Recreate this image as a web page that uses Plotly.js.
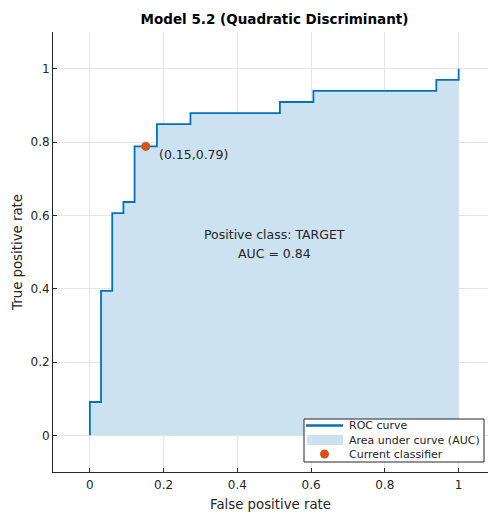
<!DOCTYPE html>
<html>
<head>
<meta charset="utf-8">
<script src="https://cdn.plot.ly/plotly-3.0.1.min.js"></script>
<style>
  html, body { margin: 0; padding: 0; background: #ffffff; }
  #chart { width: 488px; height: 512px; }
</style>
</head>
<body>
<div id="chart"></div>
<script>
// ROC curve vertices (false positive rate, true positive rate)
const fpr = [0, 0, 0.0303, 0.0303, 0.0606, 0.0606, 0.0909, 0.0909, 0.1212, 0.1212,
             0.1818, 0.1818, 0.2727, 0.2727, 0.5152, 0.5152, 0.6061, 0.6061,
             0.9394, 0.9394, 1, 1];
const tpr = [0, 0.0909, 0.0909, 0.3939, 0.3939, 0.6061, 0.6061, 0.6364, 0.6364, 0.7879,
             0.7879, 0.8485, 0.8485, 0.8788, 0.8788, 0.9091, 0.9091, 0.9394,
             0.9394, 0.9697, 0.9697, 1];

// Operating point of the current classifier
const opX = [0.1515];
const opY = [0.7879];

const positiveClass = 'TARGET';
const tickVals = [0, 0.2, 0.4, 0.6, 0.8, 1];
const tickText = ['0', '0.2', '0.4', '0.6', '0.8', '1'];

// Area under the curve by the trapezoid rule
let auc = 0;
for (let i = 1; i < fpr.length; i++) {
  auc += (fpr[i] - fpr[i - 1]) * (tpr[i] + tpr[i - 1]) / 2;
}

const W = 488, H = 512;
const M = { l: 53, r: 0, t: 32, b: 40 };
const PW = W - M.l - M.r, PH = H - M.t - M.b;
const px = v => (v - M.l) / PW;          // page pixel -> paper x
const py = v => (H - M.b - v) / PH;      // page pixel -> paper y

const blue = '#0072BD';
const areaFill = 'rgb(204,226,241)';
const orange = '#D95319';
const ink = '#262626';
const font = 'DejaVu Sans';

const traces = [
  {
    x: fpr, y: tpr, type: 'scatter', mode: 'lines',
    fill: 'tozeroy', fillcolor: areaFill,
    line: { width: 0, color: areaFill },
    hoverinfo: 'skip', showlegend: false
  },
  {
    x: fpr, y: tpr, type: 'scatter', mode: 'lines',
    line: { width: 1.8, color: blue },
    showlegend: false
  },
  {
    x: opX, y: opY, type: 'scatter', mode: 'markers',
    marker: { size: 9, color: orange },
    showlegend: false, cliponaxis: false
  }
];

// Legend drawn as a compact box in the lower right corner
const legX0 = 304, legX1 = 484, legY0 = 419, legY1 = 462;
const shapes = [
  { type: 'rect', xref: 'paper', yref: 'paper', x0: px(legX0), x1: px(legX1),
    y0: py(legY1), y1: py(legY0), fillcolor: '#ffffff', line: { color: ink, width: 1 }, layer: 'above' },
  { type: 'line', xref: 'paper', yref: 'paper', x0: px(306), x1: px(343),
    y0: py(425.5), y1: py(425.5), line: { color: blue, width: 2.5 }, layer: 'above' },
  { type: 'rect', xref: 'paper', yref: 'paper', x0: px(307), x1: px(343),
    y0: py(445), y1: py(435), fillcolor: areaFill, line: { width: 0 }, layer: 'above' },
  { type: 'circle', xref: 'paper', yref: 'paper', x0: px(320), x1: px(329),
    y0: py(458.5), y1: py(449.5), fillcolor: orange, line: { width: 0 }, layer: 'above' }
];

const legendLabels = ['ROC curve', 'Area under curve (AUC)', 'Current classifier'];
const legendRows = [425, 440, 454];

const annotations = legendLabels.map((t, i) => ({
  text: t, xref: 'paper', yref: 'paper', x: px(347), y: py(legendRows[i]),
  xanchor: 'left', yanchor: 'middle', showarrow: false,
  font: { family: font, size: 11, color: ink }
}));

annotations.push({
  text: '(' + opX[0].toFixed(2) + ',' + opY[0].toFixed(2) + ')',
  x: opX[0], y: opY[0], xref: 'x', yref: 'y',
  xanchor: 'left', yanchor: 'middle', xshift: 11, yshift: -8,
  showarrow: false, font: { family: font, size: 12.5, color: ink }
});
annotations.push({
  text: 'Positive class: ' + positiveClass,
  x: 0.5, y: 0.549, xref: 'x', yref: 'y', xanchor: 'center', yanchor: 'middle',
  showarrow: false, font: { family: font, size: 12.5, color: ink }
});
annotations.push({
  text: 'AUC = ' + auc.toFixed(2),
  x: 0.5, y: 0.497, xref: 'x', yref: 'y', xanchor: 'center', yanchor: 'middle',
  showarrow: false, font: { family: font, size: 12.5, color: ink }
});

const axisCommon = {
  tickvals: tickVals, ticktext: tickText,
  showline: true, linecolor: ink, linewidth: 1, mirror: false,
  showgrid: true, gridcolor: '#e6e6e6', gridwidth: 1,
  zeroline: false,
  ticks: 'inside', ticklen: 4, tickcolor: ink, tickwidth: 1,
  tickfont: { family: font, size: 12, color: ink },
  automargin: false, fixedrange: true
};

const layout = {
  width: W, height: H,
  margin: { l: M.l, r: M.r, t: M.t, b: M.b, pad: 0 },
  paper_bgcolor: '#ffffff', plot_bgcolor: '#ffffff',
  font: { family: font, color: ink },
  title: {
    text: '<b>Model 5.2 (Quadratic Discriminant)</b>',
    font: { family: font, size: 13.5, color: '#000000' },
    xref: 'paper', x: px(274.5), xanchor: 'center',
    yref: 'container', y: 1 - 19 / H, yanchor: 'middle'
  },
  xaxis: Object.assign({}, axisCommon, {
    range: [-0.1, -0.1 + PW / 368.8],
    ticklabelstandoff: 2,
    title: { text: 'False positive rate', font: { family: font, size: 13.3, color: ink }, standoff: 8 }
  }),
  yaxis: Object.assign({}, axisCommon, {
    range: [-0.1, 1.1],
    title: { text: 'True positive rate', font: { family: font, size: 13.3, color: ink }, standoff: 4 }
  }),
  shapes: shapes,
  annotations: annotations,
  showlegend: false
};

Plotly.newPlot('chart', traces, layout, { displayModeBar: false, staticPlot: true });
</script>
</body>
</html>
